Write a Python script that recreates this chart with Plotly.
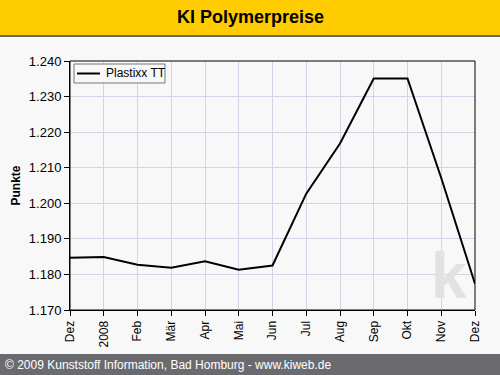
import plotly.graph_objects as go

months = ["Dez", "2008", "Feb", "Mär", "Apr", "Mai", "Jun", "Jul", "Aug", "Sep", "Okt", "Nov", "Dez"]
values = [1.1847, 1.1849, 1.1827, 1.1819, 1.1837, 1.1813, 1.1825, 1.2027, 1.2168, 1.2351, 1.2351, 1.2071, 1.1774]
series_name = "Plastixx TT"
x_idx = list(range(len(months)))

W, H = 500, 375
L, R, T, B = 70, 25, 61, 65
pw, ph = W - L - R, H - T - B

def px(x):
    return (x - L) / pw

def py(y):
    return (H - B - y) / ph

FONT = "Liberation Sans, Arial, sans-serif"

fig = go.Figure()
fig.add_trace(go.Scatter(x=x_idx, y=values, mode="lines", name=series_name,
                         line=dict(color="black", width=2)))

shapes = [
    # title bar
    dict(type="rect", xref="paper", yref="paper", x0=px(-5), x1=px(W + 5), y0=py(35), y1=py(-5),
         fillcolor="#FFCC00", line=dict(width=0), layer="below"),
    dict(type="rect", xref="paper", yref="paper", x0=px(-5), x1=px(W + 5), y0=py(37), y1=py(35),
         fillcolor="#666666", line=dict(width=0), layer="below"),
    # footer
    dict(type="rect", xref="paper", yref="paper", x0=px(-5), x1=px(W + 5), y0=py(H + 5), y1=py(354),
         fillcolor="#6B6B6F", line=dict(width=0), layer="below"),
    # plot frame
    dict(type="rect", xref="paper", yref="paper", x0=0, x1=1, y0=0, y1=1,
         line=dict(color="black", width=1)),
    # legend box and sample line
    dict(type="rect", xref="paper", yref="paper", x0=px(74), x1=px(165), y0=py(83), y1=py(64),
         fillcolor="#F8F8F8", line=dict(color="#777777", width=1)),
    dict(type="line", xref="paper", yref="paper", x0=px(77), x1=px(100), y0=py(73.5), y1=py(73.5),
         line=dict(color="black", width=2)),
]

annotations = [
    dict(text="<b>k</b>", xref="paper", yref="paper", x=px(449), y=py(276),
         xanchor="center", yanchor="middle", showarrow=False,
         font=dict(family=FONT, size=64, color="#E2E2E2")),
    dict(text="<b>KI Polymerpreise</b>", xref="paper", yref="paper", x=px(250), y=py(17),
         xanchor="center", yanchor="middle", showarrow=False,
         font=dict(family=FONT, size=18, color="black")),
    dict(text="© 2009 Kunststoff Information, Bad Homburg - www.kiweb.de", xref="paper", yref="paper",
         x=px(3), y=py(364.5), xanchor="left", yanchor="middle", showarrow=False,
         font=dict(family=FONT, size=12, color="white")),
    dict(text=series_name, xref="paper", yref="paper", x=px(104), y=py(73.5),
         xanchor="left", yanchor="middle", showarrow=False,
         font=dict(family=FONT, size=12, color="black")),
]

fig.update_layout(
    width=W, height=H,
    margin=dict(l=L, r=R, t=T, b=B, pad=0),
    paper_bgcolor="#F8F8F8", plot_bgcolor="#F8F8F8",
    font=dict(family=FONT, size=12, color="black"),
    showlegend=False,
    shapes=shapes,
    annotations=annotations,
    xaxis=dict(range=[0, 12], tickmode="array", tickvals=x_idx, ticktext=months,
               tickangle=-90, showgrid=True, gridcolor="#D6D3E6", gridwidth=1,
               showline=True, linecolor="black", linewidth=1, zeroline=False,
               ticks="outside", ticklen=5, tickcolor="black",
               tickfont=dict(family=FONT, size=12, color="black")),
    yaxis=dict(range=[1.170, 1.240], dtick=0.01, tick0=1.17, tickformat=".3f",
               showgrid=True, gridcolor="#D6D3E6", gridwidth=1,
               showline=True, linecolor="black", linewidth=1, zeroline=False,
               ticks="outside", ticklen=5, tickcolor="black",
               tickfont=dict(family=FONT, size=13, color="black"),
               title=dict(text="<b>Punkte</b>", standoff=5,
                          font=dict(family=FONT, size=12, color="black"))),
)

fig.write_html("out.html")
